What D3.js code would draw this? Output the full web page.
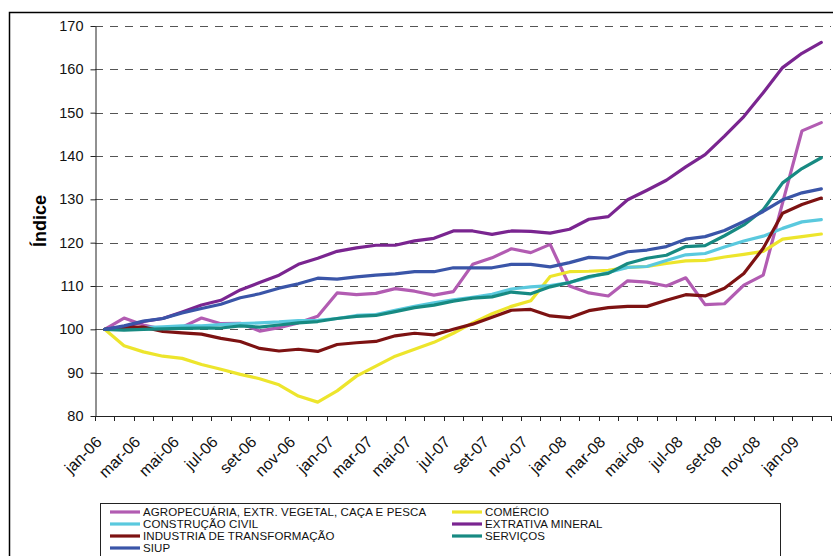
<!DOCTYPE html>
<html>
<head>
<meta charset="utf-8">
<script src="https://cdn.jsdelivr.net/npm/d3@7"></script>
<style>
  body { margin: 0; background: #fff; }
  svg { display: block; font-family: "Liberation Sans", Arial, sans-serif; }
</style>
</head>
<body>
<svg id="chart" width="833" height="556"></svg>
<script>
// months on the category axis
var months = ['jan-06','fev-06','mar-06','abr-06','mai-06','jun-06','jul-06','ago-06','set-06','out-06','nov-06','dez-06',
  'jan-07','fev-07','mar-07','abr-07','mai-07','jun-07','jul-07','ago-07','set-07','out-07','nov-07','dez-07',
  'jan-08','fev-08','mar-08','abr-08','mai-08','jun-08','jul-08','ago-08','set-08','out-08','nov-08','dez-08',
  'jan-09','fev-09'];

var yTicks = [80, 90, 100, 110, 120, 130, 140, 150, 160, 170];

var agro = [100, 102.6, 101.0, 100.0, 100.5, 102.6, 101.3, 101.4, 99.6, 100.4, 101.5, 103.0, 108.4, 108.0, 108.3, 109.4, 108.8, 107.9, 108.7, 115.0, 116.5, 118.6, 117.7, 119.6, 110.0, 108.4, 107.7, 111.2, 110.9, 110.0, 111.9, 105.7, 105.9, 110.2, 112.5, 129.2, 145.8, 147.7];
var comercio = [100, 96.2, 94.8, 93.8, 93.3, 91.9, 90.8, 89.6, 88.6, 87.2, 84.6, 83.2, 85.8, 89.2, 91.5, 93.8, 95.4, 97.0, 99.1, 101.5, 103.6, 105.3, 106.6, 112.2, 113.3, 113.4, 113.6, 114.3, 114.5, 115.2, 115.8, 115.9, 116.7, 117.3, 118.0, 120.8, 121.4, 122.0];
var construcao = [100, 100.1, 100.4, 100.6, 100.8, 100.8, 101.1, 101.3, 101.5, 101.7, 102.0, 102.1, 102.5, 103.2, 103.4, 104.4, 105.3, 106.1, 106.8, 107.4, 108.1, 109.3, 109.8, 110.1, 110.8, 112.0, 113.1, 114.3, 114.5, 115.9, 117.2, 117.5, 119.0, 120.4, 121.5, 123.3, 124.8, 125.3];
var extrativa = [100, 100.5, 101.8, 102.5, 104.0, 105.6, 106.7, 109.1, 110.8, 112.5, 115.0, 116.4, 118.0, 118.8, 119.4, 119.4, 120.4, 121.0, 122.7, 122.7, 121.9, 122.7, 122.6, 122.2, 123.1, 125.4, 126.0, 129.9, 132.1, 134.4, 137.5, 140.3, 144.6, 149.1, 154.6, 160.4, 163.7, 166.2];
var industria = [100, 100.5, 100.5, 99.5, 99.2, 98.9, 97.9, 97.2, 95.6, 95.0, 95.4, 94.9, 96.5, 96.9, 97.2, 98.5, 99.1, 98.7, 100.0, 101.2, 102.8, 104.4, 104.6, 103.1, 102.7, 104.3, 105.0, 105.3, 105.3, 106.7, 108.0, 107.7, 109.5, 112.9, 118.7, 126.8, 128.8, 130.3];
var servicos = [100, 99.8, 100.0, 100.1, 100.2, 100.3, 100.3, 100.8, 100.5, 101.0, 101.5, 101.8, 102.5, 103.0, 103.2, 104.1, 105.0, 105.6, 106.5, 107.2, 107.5, 108.6, 108.2, 109.8, 110.8, 112.2, 112.9, 115.2, 116.4, 117.1, 119.1, 119.3, 121.6, 124.1, 127.6, 133.8, 137.1, 139.6];
var siup = [100, 100.8, 101.9, 102.5, 103.8, 104.8, 105.8, 107.3, 108.2, 109.5, 110.5, 111.8, 111.6, 112.1, 112.5, 112.8, 113.3, 113.3, 114.2, 114.2, 114.2, 115.0, 115.0, 114.4, 115.4, 116.6, 116.4, 117.9, 118.3, 119.1, 120.8, 121.4, 122.8, 124.9, 127.2, 129.9, 131.5, 132.4];

var series = [
  { name: 'AGROPECUÁRIA, EXTR. VEGETAL, CAÇA E PESCA', values: agro, color: '#b25cb2' },
  { name: 'COMÉRCIO', values: comercio, color: '#ede52c' },
  { name: 'CONSTRUÇÃO CIVIL', values: construcao, color: '#5ac9de' },
  { name: 'EXTRATIVA MINERAL', values: extrativa, color: '#7a2590' },
  { name: 'INDUSTRIA DE TRANSFORMAÇÃO', values: industria, color: '#7d1212' },
  { name: 'SERVIÇOS', values: servicos, color: '#178a82' },
  { name: 'SIUP', values: siup, color: '#3a55a8' }
];

var svg = d3.select('#chart');
var plotLeft = 95, plotRight = 831, plotTop = 26, plotBottom = 416;

// outer frame
svg.append('rect')
  .attr('x', 9.5).attr('y', 12.5)
  .attr('width', 900).attr('height', 700)
  .attr('fill', 'none').attr('stroke', '#000').attr('stroke-width', 1.5);

var x = d3.scaleBand().domain(months).range([plotLeft, plotRight]).padding(0);
var y = d3.scaleLinear().domain([80, 170]).range([plotBottom, plotTop]);
var cx = function (m) { return x(m) + x.bandwidth() / 2; };

// dashed gridlines
svg.append('g').selectAll('line')
  .data(yTicks.filter(function (t) { return t > 80; }))
  .enter().append('line')
  .attr('x1', plotLeft).attr('x2', plotRight)
  .attr('y1', function (d) { return Math.round(y(d)) + 0.5; })
  .attr('y2', function (d) { return Math.round(y(d)) + 0.5; })
  .attr('stroke', '#555').attr('stroke-width', 1)
  .attr('stroke-dasharray', '8,7');

// y axis
var yAxis = svg.append('g')
  .attr('transform', 'translate(' + (plotLeft + 0.5) + ',0)')
  .call(d3.axisLeft(y).tickValues(yTicks).tickSize(5).tickPadding(7).tickSizeOuter(0));
yAxis.select('.domain').attr('stroke', '#222');
yAxis.selectAll('.tick line').attr('stroke', '#222');
yAxis.selectAll('text').attr('font-size', '14.5px').attr('fill', '#111')
  .attr('font-family', '"Liberation Sans", Arial, sans-serif');

// x axis: ticks between categories, labels every second month
var xg = svg.append('g');
xg.append('line')
  .attr('x1', plotLeft).attr('x2', plotRight)
  .attr('y1', plotBottom + 0.5).attr('y2', plotBottom + 0.5)
  .attr('stroke', '#222');
var edges = months.map(function (m) { return x(m); }).concat([plotRight]);
xg.selectAll('line.tk').data(edges).enter().append('line')
  .attr('class', 'tk')
  .attr('x1', function (d) { return Math.round(d) + 0.5; })
  .attr('x2', function (d) { return Math.round(d) + 0.5; })
  .attr('y1', plotBottom).attr('y2', plotBottom + 5)
  .attr('stroke', '#222');
xg.selectAll('text').data(months.filter(function (m, i) { return i % 2 === 0; }))
  .enter().append('text')
  .attr('transform', function (m) { return 'translate(' + (cx(m) - 2) + ',' + (plotBottom + 27) + ') rotate(-45)'; })
  .attr('text-anchor', 'end')
  .attr('font-size', '16px')
  .attr('fill', '#111')
  .text(function (m) { return m; });

// y title
svg.append('text')
  .attr('transform', 'translate(46,221) rotate(-90)')
  .attr('text-anchor', 'middle')
  .attr('font-size', '18px')
  .attr('font-weight', 'bold')
  .text('Índice');

// lines
var line = d3.line()
  .x(function (d, i) { return cx(months[i]); })
  .y(function (d) { return y(d); });

svg.append('g').selectAll('path')
  .data(series)
  .enter().append('path')
  .attr('d', function (s) { return line(s.values); })
  .attr('fill', 'none')
  .attr('stroke', function (s) { return s.color; })
  .attr('stroke-width', 3.2)
  .attr('stroke-linejoin', 'round')
  .attr('stroke-linecap', 'round');

// legend
var lg = svg.append('g');
lg.append('rect')
  .attr('x', 100.5).attr('y', 503.5)
  .attr('width', 680).attr('height', 80)
  .attr('fill', '#fff').attr('stroke', '#222').attr('stroke-width', 1);
var item = lg.selectAll('g.item').data(series).enter().append('g')
  .attr('class', 'item')
  .attr('transform', function (s, i) {
    var col = i % 2, row = Math.floor(i / 2);
    return 'translate(' + (col === 0 ? 110 : 452) + ',' + (512 + row * 12) + ')';
  });
item.append('line')
  .attr('x1', 0).attr('x2', 30).attr('y1', 0).attr('y2', 0)
  .attr('stroke', function (s) { return s.color; })
  .attr('stroke-width', 3.2);
item.append('text')
  .attr('x', 33).attr('y', 4.2)
  .attr('font-size', '11.5px')
  .attr('letter-spacing', '0.1px')
  .attr('fill', '#111')
  .text(function (s) { return s.name; });
</script>
</body>
</html>
